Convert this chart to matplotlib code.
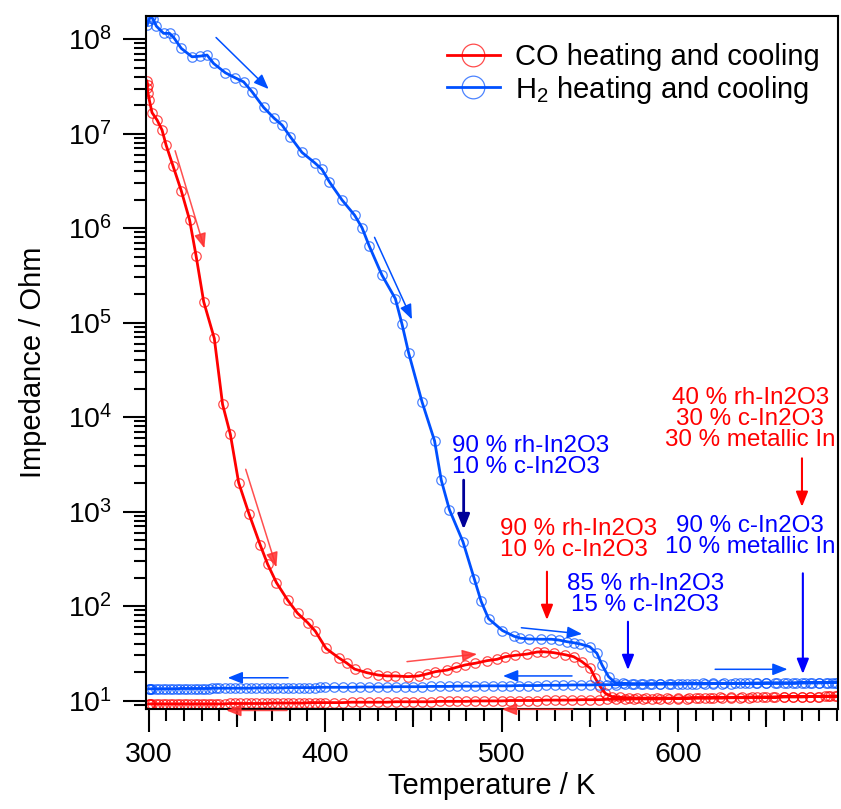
import numpy as np
import matplotlib
matplotlib.use('Agg')
import matplotlib.pyplot as plt
from matplotlib.ticker import MultipleLocator, LogLocator, NullFormatter
from matplotlib.markers import TICKDOWN
from matplotlib.colors import to_rgba

plt.rcParams['font.family'] = ['Liberation Sans', 'DejaVu Sans']
plt.rcParams['mathtext.fontset'] = 'custom'
plt.rcParams['mathtext.rm'] = 'Liberation Sans'
plt.rcParams['mathtext.it'] = 'Liberation Sans:italic'
plt.rcParams['mathtext.bf'] = 'Liberation Sans:bold'

# CO run: heating branch (T in K, impedance in Ohm)
co_heat_T = [299.0, 299.5, 299.2, 299.6, 300.4, 301.9, 304.8, 307.6, 309.9, 313.8,
             318.5, 323.2, 326.9, 331.2, 337.2, 341.9, 346.3, 351.0, 356.9, 363.3,
             367.4, 372.4, 378.7, 384.4, 390.1, 394.4, 400.5, 407.6, 412.4, 416.7,
             423.7, 430.0, 435.1, 439.8, 446.8, 453.0, 457.7, 462.5, 469.1, 474.2,
             479.4, 485.1, 491.7, 497.4, 502.1, 507.8, 514.4, 520.1, 523.8, 529.5,
             536.1, 540.8, 545.5, 550.3, 553.1, 555.9, 558.8, 562.6, 567, 572,
             577, 582, 588, 594, 600, 606, 612, 618, 624, 630,
             636, 642, 648, 654, 660, 665, 670, 675, 679, 683, 686, 689]
co_heat_Z = [3.60e7, 3.26e7, 3.01e7, 2.70e7, 2.26e7, 1.67e7, 1.39e7, 1.09e7, 7.55e6, 4.56e6,
             2.48e6, 1.22e6, 5.06e5, 1.66e5, 6.81e4, 1.36e4, 6.56e3, 2.02e3, 942, 439,
             278, 177, 116, 83.8, 66.7, 54.3, 35.6, 28.4, 24.8, 21.5,
             19.7, 18.6, 18.2, 18.2, 17.9, 18.2, 19.1, 20.2, 21.0, 22.4,
             23.8, 24.8, 26.4, 27.3, 29.1, 30.1, 31.0, 32.6, 32.8, 32.1,
             30.5, 29.1, 25.8, 21.9, 17.2, 14.0, 11.9, 11.0, 10.8, 10.7,
             10.6, 10.6, 10.6, 10.6, 10.6, 10.7, 10.7, 10.7, 10.8, 10.8,
             10.8, 10.9, 10.9, 10.9, 11.0, 11.0, 11.0, 11.0, 11.0, 11.1, 11.1, 11.1]

# CO run: cooling branch
co_cool_T = [690, 685, 680, 675, 670, 665, 660, 655, 650, 645, 640, 635, 630, 625, 620,
             615, 610, 605, 600, 595, 590, 585, 580, 575, 570, 565, 560, 555, 550, 545,
             540, 535, 530, 525, 520, 515, 510, 505, 500, 495, 490, 485, 480, 475, 470,
             465, 460, 455, 450, 445, 440, 435, 430, 425, 420, 415, 410, 405, 400,
             397, 394, 391, 388, 385, 382, 379, 376, 373, 370, 367, 364, 361, 358, 355,
             352, 349, 346, 343, 340,
             338, 336, 334, 332, 330, 328, 326, 324, 322, 320, 318, 316, 314, 312, 310,
             308, 306, 304, 302, 301, 300.5, 300]
co_cool_Z = [11.1, 11.1, 11.0, 11.0, 10.9, 10.9, 10.9, 10.8, 10.8, 10.8, 10.7, 10.7, 10.7, 10.6, 10.6,
             10.6, 10.6, 10.5, 10.5, 10.5, 10.4, 10.4, 10.4, 10.4, 10.3, 10.3, 10.3, 10.2, 10.2, 10.2,
             10.1, 10.1, 10.1, 10.1, 10.0, 10.0, 10.0, 10.0, 9.9, 9.9, 9.9, 9.9, 9.8, 9.8, 9.8,
             9.8, 9.7, 9.7, 9.7, 9.7, 9.7, 9.6, 9.6, 9.6, 9.6, 9.6, 9.5, 9.5, 9.5,
             9.5, 9.5, 9.5, 9.4, 9.4, 9.4, 9.4, 9.4, 9.4, 9.4, 9.3, 9.3, 9.3, 9.3, 9.3,
             9.3, 9.3, 9.3, 9.2, 9.2,
             9.2, 9.2, 9.2, 9.2, 9.2, 9.2, 9.2, 9.2, 9.2, 9.2, 9.2, 9.2, 9.2, 9.2, 9.2,
             9.2, 9.2, 9.2, 9.2, 9.2, 9.2, 9.2]

# H2 run: heating branch
h2_heat_T = [299.2, 299.8, 300.6, 301.4, 302.5, 304.4, 308.5, 311.9, 314.2, 318.5,
             324.6, 329.3, 333.1, 336.8, 343.5, 349.1, 353.8, 358.6, 365.2, 371.2,
             375.6, 380.3, 386.9, 394.1, 398.2, 402.4, 409.6, 416.7, 420.9, 425.0,
             432.2, 439.8, 443.6, 447.3, 454.9, 462.0, 465.8, 470.4, 478.1, 484.6,
             488.4, 492.6, 500.5, 507.0, 510.6, 515.3, 522.3, 528.2, 532.3, 537.1,
             540.8, 544.6, 549.9, 554.0, 556.9, 560.6, 564.4, 569, 574, 579,
             584, 590, 596, 602, 608, 614, 620, 626, 632, 638,
             644, 650, 656, 662, 667, 672, 676, 680, 684, 687, 689]
h2_heat_Z = [1.41e8, 1.55e8, 1.66e8, 1.75e8, 1.62e8, 1.37e8, 1.15e8, 1.15e8, 1.04e8, 7.98e7,
             6.50e7, 6.61e7, 6.78e7, 5.53e7, 4.40e7, 3.89e7, 3.53e7, 2.77e7, 1.89e7, 1.45e7,
             1.23e7, 9.25e6, 6.32e6, 4.91e6, 4.18e6, 3.09e6, 1.98e6, 1.37e6, 1.01e6, 6.46e5,
             3.18e5, 1.79e5, 9.57e4, 4.79e4, 1.45e4, 5.61e3, 2.15e3, 1.05e3, 479, 191,
             112, 73.5, 55.0, 47.9, 45.7, 44.8, 44.5, 44.5, 43.7, 41.9,
             40.9, 39.6, 37.1, 31.6, 23.8, 17.9, 15.4, 15.2, 15.1, 15.1,
             15.1, 15.1, 15.1, 15.1, 15.1, 15.2, 15.2, 15.2, 15.2, 15.2,
             15.3, 15.3, 15.3, 15.3, 15.3, 15.4, 15.4, 15.4, 15.4, 15.5, 15.5]

# H2 run: cooling branch
h2_cool_T = co_cool_T
h2_cool_Z = [15.5, 15.5, 15.4, 15.4, 15.4, 15.3, 15.3, 15.3, 15.3, 15.2, 15.2, 15.2, 15.1, 15.1, 15.1,
             15.0, 15.0, 15.0, 14.9, 14.9, 14.9, 14.8, 14.8, 14.8, 14.8, 14.7, 14.7, 14.7, 14.6, 14.6,
             14.6, 14.5, 14.5, 14.5, 14.4, 14.4, 14.4, 14.3, 14.3, 14.3, 14.3, 14.2, 14.2, 14.2, 14.1,
             14.1, 14.1, 14.0, 14.0, 14.0, 14.0, 13.9, 13.9, 13.9, 13.9, 13.8, 13.8, 13.8, 13.8,
             13.8, 13.7, 13.7, 13.7, 13.7, 13.7, 13.7, 13.6, 13.6, 13.6, 13.6, 13.6, 13.6, 13.5, 13.5,
             13.5, 13.5, 13.5, 13.5, 13.5,
             13.5, 13.5, 13.4, 13.4, 13.4, 13.4, 13.4, 13.4, 13.4, 13.4, 13.4, 13.3, 13.3, 13.3, 13.3,
             13.3, 13.3, 13.3, 13.3, 13.3, 13.3, 13.3]

mid_ticks = [350, 450, 550, 650]

red = '#ff0000'
blue = '#0050ff'

fig = plt.figure(figsize=(8.41, 8.09), dpi=100)
ax = fig.add_axes([0.1736, 0.1236, 0.8228, 0.857])

co_T = co_heat_T + co_cool_T
co_Z = co_heat_Z + co_cool_Z
h2_T = h2_heat_T + h2_cool_T
h2_Z = h2_heat_Z + h2_cool_Z

ax.plot(co_T, co_Z, '-', color=red, lw=2.0, marker='o', ms=6.8, mfc='none',
        mec=to_rgba(red, 0.7), mew=0.9, label='CO heating and cooling')
ax.plot(h2_T, h2_Z, '-', color=blue, lw=2.0, marker='o', ms=6.8, mfc='none',
        mec=to_rgba(blue, 0.7), mew=0.9, label='H$_2$ heating and cooling')

ax.set_yscale('log')
ax.set_xlim(298.5, 690.6)
ax.set_ylim(8.13, 1.77e8)

ax.xaxis.set_major_locator(MultipleLocator(100))
ax.xaxis.set_minor_locator(MultipleLocator(10))
ax.yaxis.set_major_locator(LogLocator(base=10, numticks=20))
ax.yaxis.set_minor_locator(LogLocator(base=10, subs=np.arange(2, 10), numticks=20))
ax.yaxis.set_minor_formatter(NullFormatter())

ax.tick_params(which='major', direction='out', length=16.5, width=1.5, labelsize=20.5)
ax.tick_params(which='minor', direction='out', length=8.5, width=1.5)
ax.tick_params(axis='x', which='major', pad=7)
ax.tick_params(axis='y', which='major', pad=8)
for s in ax.spines.values():
    s.set_linewidth(1.5)

# medium ticks at the 50 K marks
ax.plot(mid_ticks, [0] * len(mid_ticks), ls='none', marker=TICKDOWN, ms=13, mew=1.5,
        color='k', transform=ax.get_xaxis_transform(), clip_on=False)

ax.set_xlabel('Temperature / K', fontsize=21, labelpad=3)
ax.set_ylabel('Impedance / Ohm', fontsize=21, labelpad=15)

ax.legend(loc='upper left', bbox_to_anchor=(0.4345, 0.961), frameon=False, fontsize=21,
          borderpad=0, borderaxespad=0, handlelength=1.84, handletextpad=0.52,
          labelspacing=0.1, markerscale=2.4)

# process arrows
def arrow(x0, y0, x1, y1, color, lw=1.1, ms=18):
    ax.annotate('', xy=(x1, y1), xytext=(x0, y0), annotation_clip=False, zorder=5,
                arrowprops=dict(arrowstyle='-|>,head_length=0.5,head_width=0.2', color=color,
                                lw=lw, mutation_scale=ms, shrinkA=0, shrinkB=0))

light_red = to_rgba('#ff3030', 0.85)
arrow(338.2, 1.04e8, 368.0, 2.96e7, blue)
arrow(315.0, 6.58e6, 331.6, 6.10e5, light_red)
arrow(428.0, 7.98e5, 449.2, 1.08e5, blue)
arrow(355.0, 2.80e3, 372.4, 257, light_red)
arrow(446.4, 25.8, 486.1, 31.0, light_red)
arrow(511.2, 58.9, 545.6, 50.6, blue)
arrow(379.0, 17.4, 344.8, 17.4, blue)
arrow(378.4, 7.85, 344.0, 7.85, light_red)
arrow(539.9, 18.2, 500.8, 18.2, blue)
arrow(540.4, 8.07, 500.2, 8.07, light_red)
arrow(621.0, 21.4, 662.0, 21.4, blue)

arrow(478.5, 2.15e3, 478.5, 646, '#000099', lw=2.0)
arrow(525.7, 231, 525.7, 71.1, red, lw=1.5)
arrow(571.6, 68.2, 571.6, 21.0, '#0000ff', lw=1.5)
arrow(670.7, 222, 670.7, 19.1, '#0000ff', lw=1.5)
arrow(670.2, 3.66e3, 670.2, 1.12e3, red, lw=1.5)

# phase composition notes
fs = 17.4
ls = 0.95
ax.text(640.8, 9.46e3, '40 % rh-In2O3\n30 % c-In2O3\n30 % metallic In', color=red,
        fontsize=fs, ha='center', va='center', linespacing=ls)
ax.text(471.9, 3.80e3, '90 % rh-In2O3\n10 % c-In2O3', color='#0000ff',
        fontsize=fs, ha='left', va='center', linespacing=ls)
ax.text(499.3, 509, '90 % rh-In2O3\n10 % c-In2O3', color=red,
        fontsize=fs, ha='left', va='center', linespacing=ls)
ax.text(640.8, 541, '90 % c-In2O3\n10 % metallic In', color='#0000ff',
        fontsize=fs, ha='center', va='center', linespacing=ls)
ax.text(581.4, 133, '85 % rh-In2O3\n15 % c-In2O3', color='#0000ff',
        fontsize=fs, ha='center', va='center', linespacing=ls)

plt.savefig('out.png', dpi=100)
